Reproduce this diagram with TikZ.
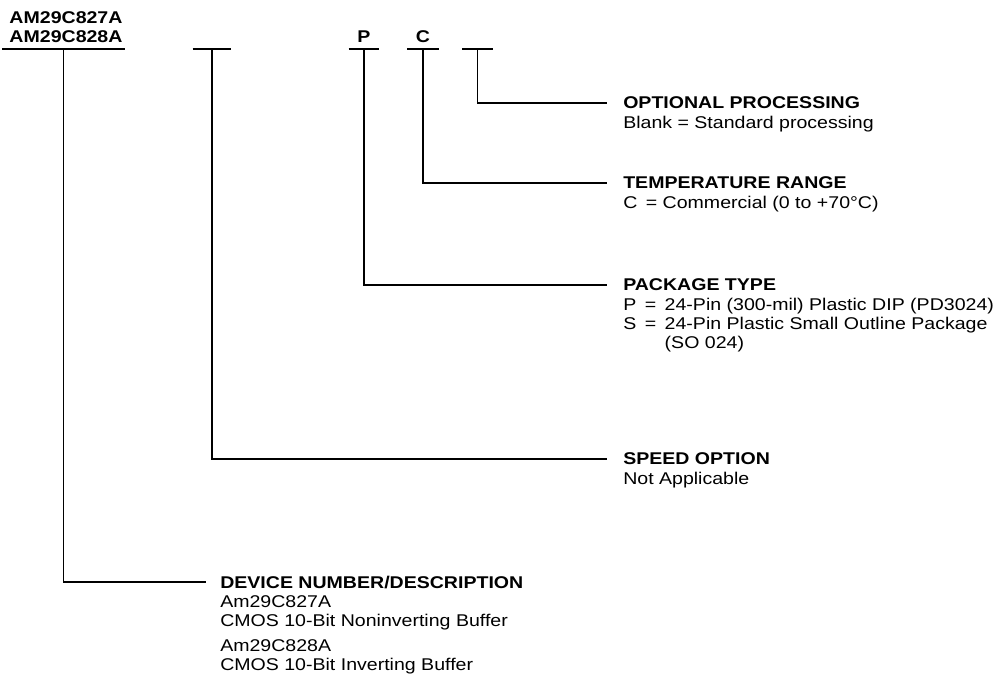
\documentclass[tikz,border=0pt]{standalone}
\usepackage{fontspec}
\setmainfont{Liberation Sans}[FakeStretch=1.15]
\usetikzlibrary{positioning}
\tikzset{
  slot/.style={rectangle, inner sep=0pt, minimum height=0pt},
  bar/.style={line width=1.6pt},
  lead/.style={line width=1.3pt, line join=miter},
  codetxt/.style={inner sep=0pt, align=center, font=\fontsize{12.75}{14.25}\bfseries\selectfont},
  hdr/.style={anchor=west, inner sep=0pt, text depth=0pt, font=\fontsize{12.75}{14.25}\bfseries\selectfont},
  txt/.style={inner sep=0pt, align=left, font=\fontsize{12.75}{14.25}\selectfont}
}
\begin{document}
\begin{tikzpicture}[x=0.75pt, y=-0.75pt]
\useasboundingbox (0,0) rectangle (1003,685);
% ---- ordering code ----
\node[codetxt, anchor=south] (part) at (66,43) {AM29C827A\\AM29C828A};
\node[codetxt, anchor=base] (pkgl) at (364,43) {P};
\node[codetxt, anchor=base] (tmpl) at (423,43) {C};
\node[slot, minimum width=91.5pt] (sdev) at (63.5,49) {};
\node[slot, minimum width=28.5pt] (sspd) at (212,49) {};
\node[slot, minimum width=22.5pt] (spkg) at (364,49) {};
\node[slot, minimum width=23pt] (stmp) at (423,49) {};
\node[slot, minimum width=22.5pt] (sopt) at (477.5,49) {};
\foreach \s in {sdev,sspd,spkg,stmp,sopt}
  \draw[bar] (\s.west) -- (\s.east);
% ---- field descriptions ----
\node[hdr] (opthd) at (623,103) {OPTIONAL PROCESSING};
\node[txt, below=5pt of opthd.south west, anchor=north west] (optbd) {Blank = Standard processing};
\node[hdr] (tmphd) at (623,183) {TEMPERATURE RANGE};
\node[txt, below=5pt of tmphd.south west, anchor=north west] (tmpbd) {C\enspace= Commercial (0 to +70°C)};
\node[hdr] (pkghd) at (623,285) {PACKAGE TYPE};
\node[txt, below=5pt of pkghd.south west, anchor=north west] (pkgbd)
  {P\enspace=\enspace 24-Pin (300-mil) Plastic DIP (PD3024)\\
   S\enspace=\enspace 24-Pin Plastic Small Outline Package\\
   \hphantom{S\enspace=\enspace }(SO 024)};
\node[hdr] (spdhd) at (623,459) {SPEED OPTION};
\node[txt, below=5pt of spdhd.south west, anchor=north west] (spdbd) {Not Applicable};
\node[hdr] (devhd) at (220,582) {DEVICE NUMBER/DESCRIPTION};
\node[txt, below=5pt of devhd.south west, anchor=north west] (devbd)
  {Am29C827A\\CMOS 10-Bit Noninverting Buffer\\[4.5pt]
   Am29C828A\\CMOS 10-Bit Inverting Buffer};
% ---- leads ----
\draw[lead] (sopt.center) |- ([xshift=-12pt]opthd.west);
\draw[lead] (stmp.center) |- ([xshift=-12pt]tmphd.west);
\draw[lead] (spkg.center) |- ([xshift=-12pt]pkghd.west);
\draw[lead] (sspd.center) |- ([xshift=-12pt]spdhd.west);
\draw[lead] (sdev.center) |- ([xshift=-10.5pt]devhd.west);
\end{tikzpicture}
\end{document}
